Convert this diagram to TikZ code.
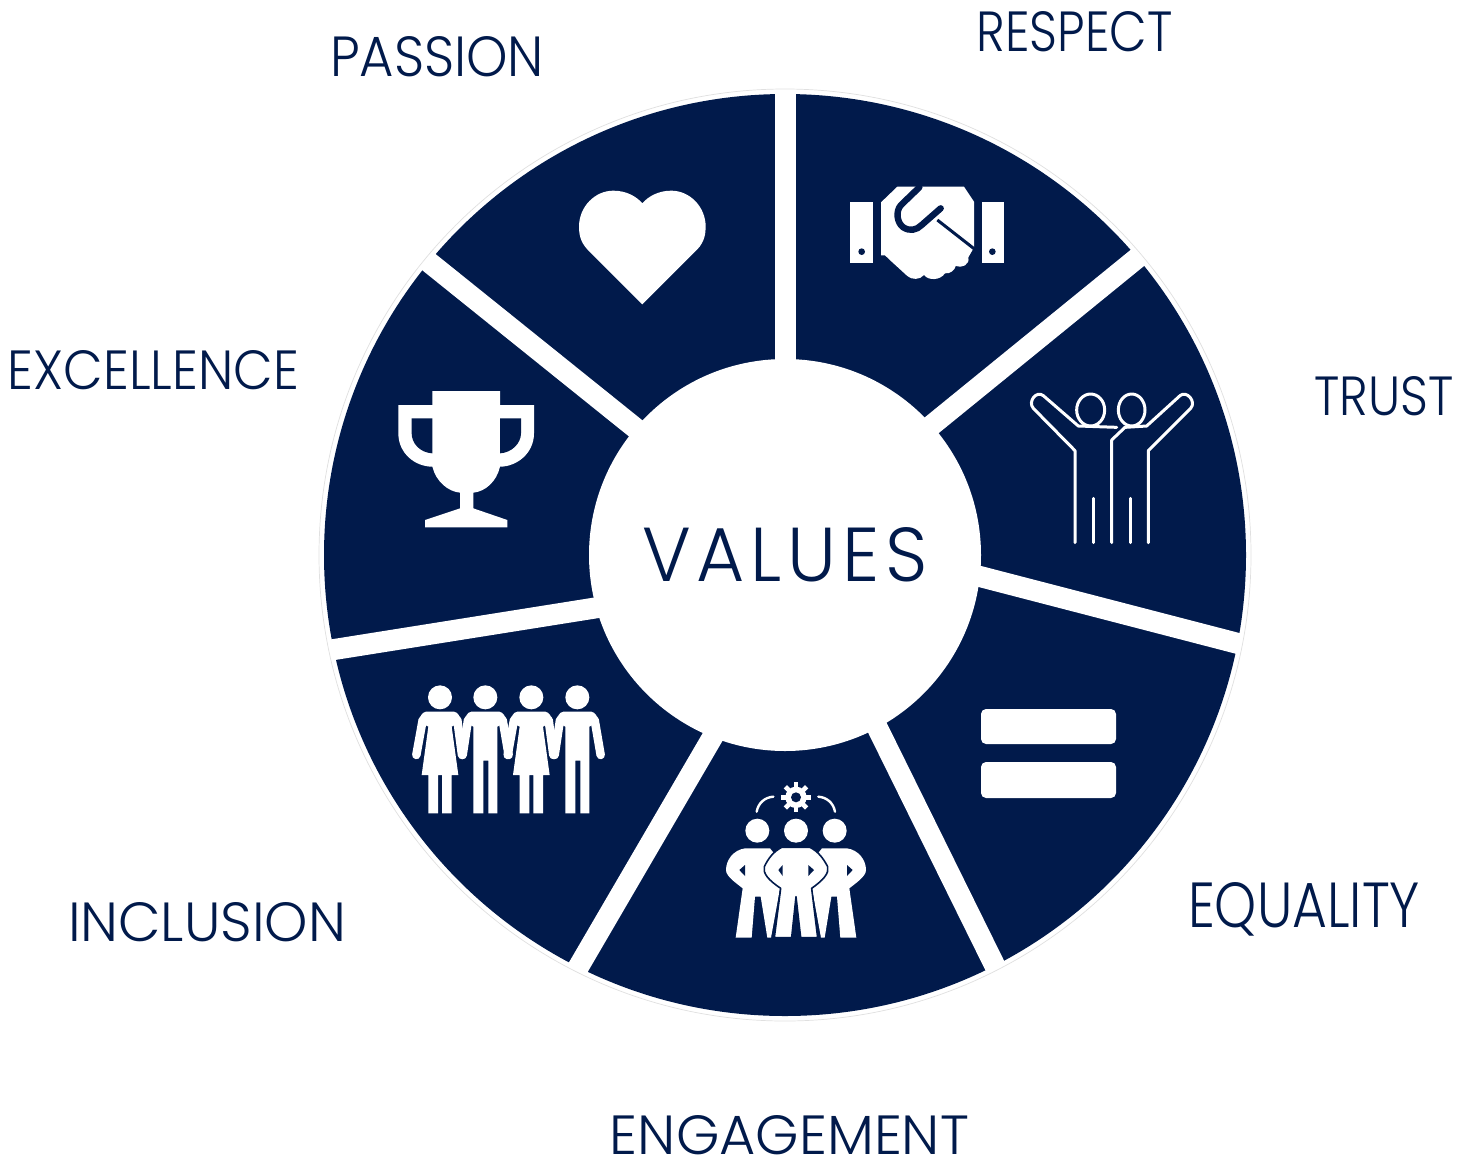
\documentclass[tikz,border=0pt]{standalone}
\usepackage{fontspec}
\usepackage{graphicx}
\setmainfont{Poppins}[UprightFont=*-Light]
\definecolor{navy}{HTML}{011A4B}
\newcommand{\lab}[3]{\resizebox{#1pt}{#2pt}{#3}}
\tikzset{
  label text/.style={text=navy,inner sep=0pt,font=\fontsize{40}{40}\selectfont},
  spoke/.style={draw=white,line width=21pt,shorten <=-6pt,shorten >=-4pt},
  icon line/.style={draw=white,line width=3pt,line cap=round,line join=round,fill=none},
  icon fill/.style={fill=white,draw=none},
  icon hole/.style={fill=navy,draw=none},
  limb/.style={draw=white,line width=8.5pt,line cap=round},
  zoomA/.style={shift={(820,170)},scale=0.33333},
  zoomB/.style={shift={(390,670)},scale=0.33333},
  zoomC/.style={shift={(380,170)},scale=0.33333},
}
\begin{document}
\begin{tikzpicture}[x=1pt,y=-1pt]
\useasboundingbox (0,0) rectangle (1474,1160);
\fill[white] (0,0) rectangle (1474,1160);
% wheel
\node[circle,fill=navy,minimum size=922pt,inner sep=0pt] (wheel) at (785,555) {};
\foreach \n/\a/\b/\c/\d in {1/785/355/785/92,2/932/425/1136/259,3/978/576/1240/644,4/877/727/994/964,5/712/738/579/966,6/595/608/331/650,7/634/427/430/263}{
  \coordinate (in\n) at (\a,\b);
  \coordinate (out\n) at (\c,\d);
  \draw[spoke] (in\n) -- (out\n);
}
\node[circle,draw=black!12,line width=.7pt,minimum size=932pt,inner sep=0pt] (ring) at (785,555) {};
\node[circle,fill=white,minimum size=392pt,inner sep=0pt] (hub) at (785,555) {};
\node[label text] (values) at (785,555) {\lab{286}{54}{\addfontfeature{LetterSpace=8}VALUES}};
% labels
\node[label text] (respect) at (1074.5,32) {\lab{196}{40}{RESPECT}};
\node[label text] (passion) at (437,57) {\lab{214}{40}{PASSION}};
\node[label text] (trust) at (1384,396) {\lab{139}{39}{TRUST}};
\node[label text] (excellence) at (153.5,370.5) {\lab{291}{39}{EXCELLENCE}};
\node[label text] (equality) at (1304,909) {\lab{232}{45}{EQUALITY}};
\node[label text] (inclusion) at (207,922.5) {\lab{278}{39}{INCLUSION}};
\node[label text] (engagement) at (789.5,1135) {\lab{359}{39}{ENGAGEMENT}};
% handshake and trust figures
\begin{scope}[zoomA]
  \fill[icon fill] (90,97) rectangle (158,280);
  \fill[icon fill] (485,97) rectangle (552,280);
  \fill[icon hole] (125,245) circle (10);
  \fill[icon hole] (517,245) circle (10);
  \fill[icon fill] (183,97) -- (232,50) -- (432,50) -- (462,95) -- (462,232) -- (445,262) .. controls (450,285) and (425,295) .. (407,288) .. controls (405,300) and (390,312) .. (375,310) .. controls (360,332) and (325,332) .. (312,315) .. controls (300,330) and (275,330) .. (262,318) -- (215,275) -- (195,256) -- (183,256) -- cycle;
  \draw[navy,line width=6.4pt,line cap=round,line join=round] (298,52) -- (243,105) .. controls (225,125) and (232,160) .. (250,172) .. controls (270,185) and (290,180) .. (305,165) -- (362,115);
  \draw[navy,line width=3pt] (352,150) -- (462,236);
  \draw[icon line] (765,1118) -- (765,842) -- (640,715) .. controls (622,695) and (650,660) .. (670,677) -- (775,768) -- (890,772);
  \draw[icon line] (812,720) ellipse (42 and 48);
  \draw[icon line] (985,1118) -- (985,842) -- (1112,715) .. controls (1130,695) and (1100,660) .. (1080,677) -- (980,768) -- (915,772) -- (875,810) -- (875,1118);
  \draw[icon line] (935,720) ellipse (40 and 48);
  \draw[icon line] (820,985) -- (820,1118);
  \draw[icon line] (932,985) -- (932,1118);
\end{scope}
% heart and trophy
\begin{scope}[zoomC]
  \fill[icon fill] (787,403) -- (622,238) .. controls (600,215) and (597,190) .. (597,170) .. controls (597,110) and (645,62) .. (700,62) .. controls (740,62) and (770,80) .. (787,100) .. controls (804,80) and (834,62) .. (874,62) .. controls (929,62) and (977,110) .. (977,170) .. controls (977,190) and (974,215) .. (952,238) -- cycle;
  \fill[icon fill] (157,663) -- (360,663) -- (360,705) -- (462,705) -- (462,790) .. controls (462,850) and (410,890) .. (360,890) .. controls (350,935) and (315,965) .. (280,968) -- (280,1015) -- (382,1050) -- (382,1072) -- (135,1072) -- (135,1050) -- (240,1015) -- (240,968) .. controls (205,965) and (168,935) .. (157,890) .. controls (105,890) and (55,850) .. (55,790) -- (55,705) -- (157,705) -- cycle;
  \fill[icon hole] (95,745) -- (157,745) -- (157,850) .. controls (120,848) and (95,820) .. (95,790) -- cycle;
  \fill[icon hole] (360,745) -- (423,745) -- (423,790) .. controls (423,820) and (395,848) .. (360,850) -- cycle;
\end{scope}
% equality
\fill[icon fill,rounded corners=5pt] (981,709) rectangle (1116,744);
\fill[icon fill,rounded corners=5pt] (981,762) rectangle (1116,798);
% inclusion and engagement
\begin{scope}[zoomB]
  \foreach \x in {150,286,424,562}{\fill[icon fill] (\x,82) circle (36);}
  \foreach \x in {150,424}{
    \begin{scope}[xshift=\x pt]
      \fill[icon fill] (-42,125) -- (42,125) .. controls (55,127) and (60,140) .. (63,155) -- (35,170) -- (55,315) -- (35,315) -- (35,430) -- (6,430) -- (6,315) -- (-6,315) -- (-6,430) -- (-35,430) -- (-35,315) -- (-55,315) -- (-35,170) -- (-63,155) .. controls (-60,140) and (-55,127) .. (-42,125) -- cycle;
      \draw[limb] (-52,150) -- (-71,255);
      \draw[limb] (52,150) -- (66,255);
    \end{scope}
  }
  \foreach \x in {286,562}{
    \begin{scope}[xshift=\x pt]
      \fill[icon fill] (-42,125) -- (42,125) .. controls (55,127) and (60,140) .. (63,155) -- (36,170) -- (36,430) -- (9,430) -- (9,272) -- (-6,272) -- (-6,430) -- (-36,430) -- (-36,170) -- (-63,155) .. controls (-60,140) and (-55,127) .. (-42,125) -- cycle;
      \draw[limb] (-52,150) -- (-68,255);
      \draw[limb] (52,150) -- (70,255);
    \end{scope}
  }
  % gear
  \foreach \t in {0,45,...,315}{
    \fill[icon fill,shift={(1218,382)},rotate=\t] (-7,-45) rectangle (7,-25);
  }
  \fill[icon fill] (1218,382) circle (32);
  \fill[icon hole] (1218,382) circle (15);
  \draw[icon line,line width=2.4pt] (1100,425) .. controls (1105,398) and (1125,382) .. (1150,380);
  \draw[icon line,line width=2.4pt] (1285,380) .. controls (1310,382) and (1330,398) .. (1335,425);
  \foreach \x in {1102,1218,1334}{\fill[icon fill] (\x,482) circle (36);}
  % side persons
  \foreach \m in {1,-1}{
    \begin{scope}[shift={(1218,0)},xscale=\m,shift={(-1218,0)}]
      \fill[icon fill] (1065,535) -- (1140,535) -- (1160,560) -- (1122,600) -- (1170,655) -- (1143,803) -- (1132,803) -- (1112,680) -- (1095,680) -- (1085,803) -- (1037,803) -- (1058,655) .. controls (1040,640) and (1008,620) .. (1008,600) .. controls (1008,570) and (1030,540) .. (1065,535) -- cycle;
      \fill[icon hole] (1065,585) -- (1048,600) -- (1065,618) -- cycle;
    \end{scope}
  }
  % centre person
  \filldraw[fill=white,draw=navy,line width=1.6pt,line join=round] (1175,532) -- (1260,532) .. controls (1285,545) and (1300,565) .. (1313,590) .. controls (1318,610) and (1300,630) .. (1265,655) -- (1283,803) -- (1232,803) -- (1218,680) -- (1205,803) -- (1153,803) -- (1172,655) .. controls (1135,630) and (1118,610) .. (1123,590) .. controls (1135,565) and (1150,545) .. (1175,532) -- cycle;
  \fill[icon hole] (1178,585) -- (1165,600) -- (1178,618) -- cycle;
  \fill[icon hole] (1255,585) -- (1272,600) -- (1255,618) -- cycle;
\end{scope}
\end{tikzpicture}
\end{document}
